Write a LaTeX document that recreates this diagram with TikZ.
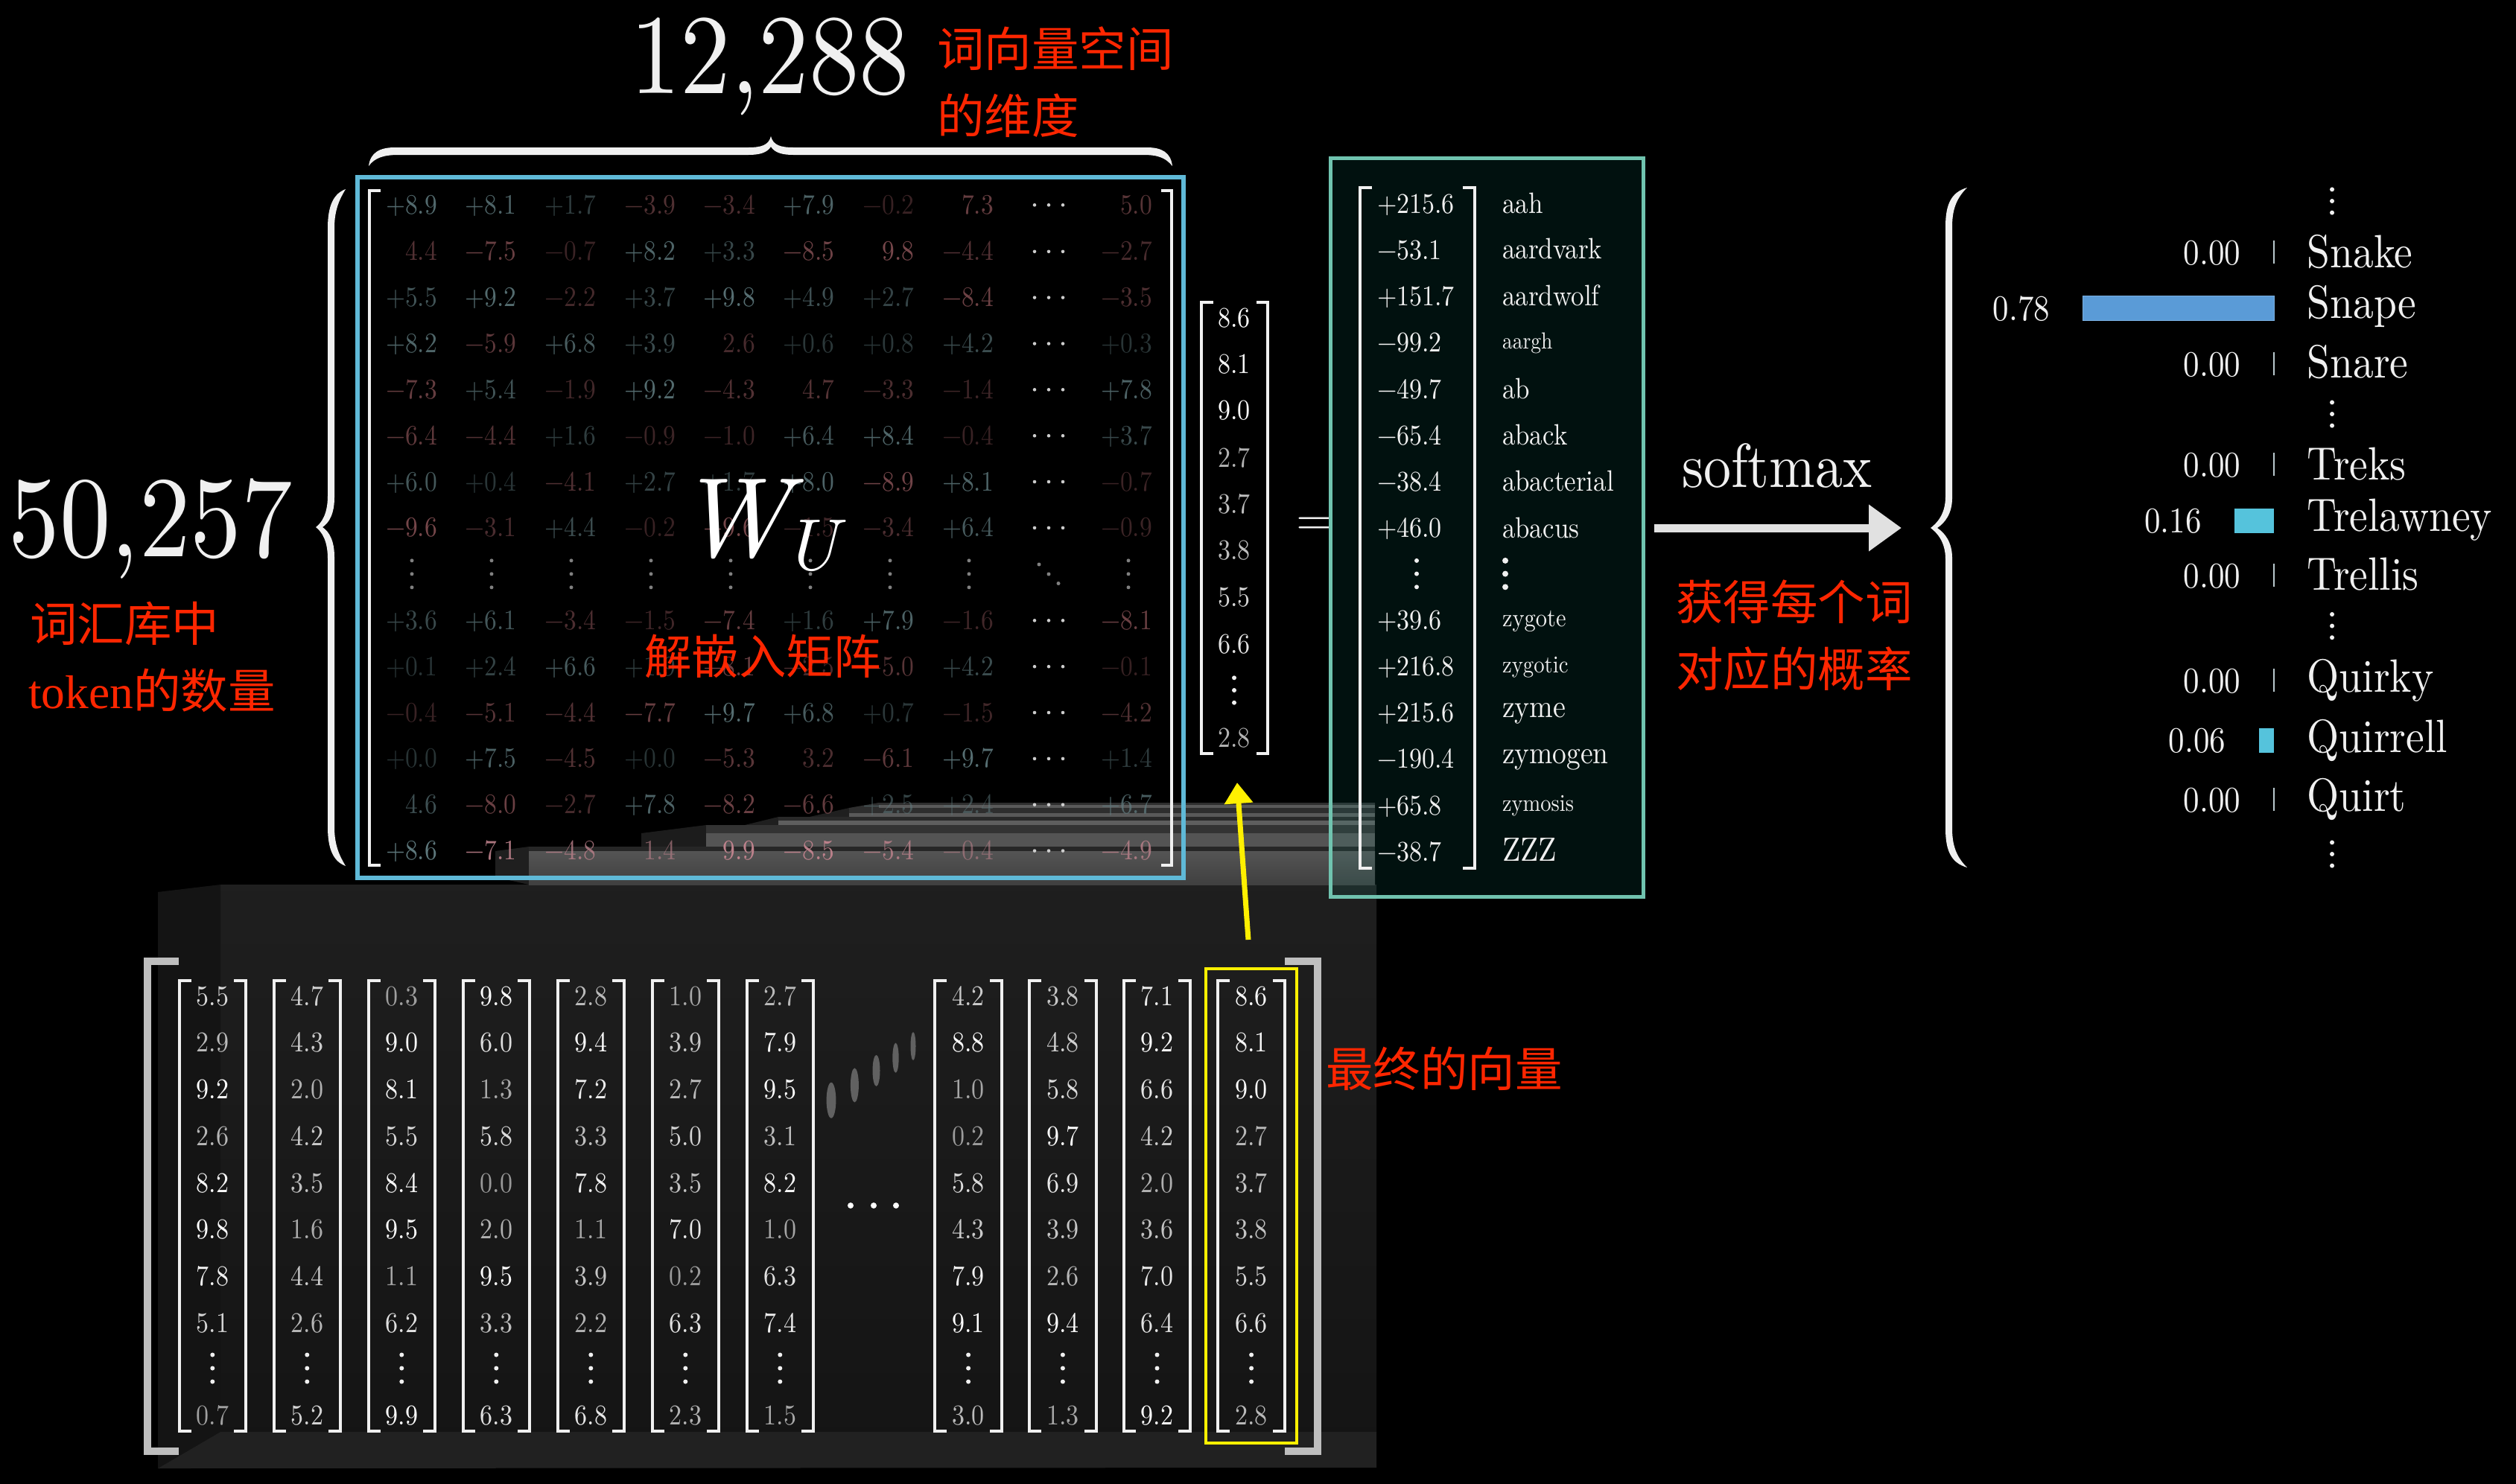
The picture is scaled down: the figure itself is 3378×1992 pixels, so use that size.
\documentclass[tikz,border=0pt]{standalone}
\usepackage{graphicx}
\usepackage{fontspec}
\usetikzlibrary{arrows.meta}
\setmainfont{lmroman10-regular.otf}[ItalicFont=lmroman10-italic.otf]
\newfontfamily\cjk{Noto Sans CJK SC}
\newfontfamily\latsf{Liberation Serif}
\definecolor{bluebox}{RGB}{95,185,215}
\definecolor{tealbox}{RGB}{112,195,175}
\definecolor{tealfill}{RGB}{20,190,170}
\definecolor{mteal}{RGB}{95,122,126}
\definecolor{mred}{RGB}{130,78,82}
\definecolor{mredb}{RGB}{190,130,140}
\definecolor{redlab}{RGB}{255,38,0}
\definecolor{ink}{RGB}{240,240,240}
\definecolor{yel}{RGB}{255,240,0}
\definecolor{arrowgrey}{RGB}{225,225,225}
\definecolor{barblue}{RGB}{90,155,215}
\definecolor{barcyan}{RGB}{85,195,220}
\definecolor{tickc}{RGB}{185,200,205}
\definecolor{outbr}{RGB}{190,190,190}
\newcommand\sy[1]{\scalebox{1}[1.13]{#1}}
\newcommand\fsz[1]{\fontsize{#1}{#1}\selectfont}
\newcommand\vd[5]{\fill[#5] (#1,#2-#3) circle[radius=#4] (#1,#2) circle[radius=#4] (#1,#2+#3) circle[radius=#4];}
\newcommand\lrbr[7]{\draw[#7] (#2,#5)--(#1,#5)--(#1,#6)--(#2,#6); \draw[#7] (#4,#5)--(#3,#5)--(#3,#6)--(#4,#6);}
\newcommand\fbrace[7]{% tipx tipy bandL bandR endx top bot
 \fill[ink] (#5,#6) .. controls (#3+8,#6+6) and (#3,#6+22) .. (#3,#6+52)
  -- (#3,#2-42) .. controls (#3,#2-18) and (#1+8,#2-6) .. (#1,#2)
  .. controls (#1+8,#2+6) and (#3,#2+18) .. (#3,#2+42)
  -- (#3,#7-52) .. controls (#3,#7-22) and (#3+8,#7-6) .. (#5,#7)
  .. controls (#4+8,#7-12) and (#4,#7-26) .. (#4,#7-52)
  -- (#4,#2+40) .. controls (#4,#2+18) and (#1+18,#2+6) .. (#1+9,#2)
  .. controls (#1+18,#2-6) and (#4,#2-18) .. (#4,#2-40)
  -- (#4,#6+52) .. controls (#4,#6+26) and (#4+8,#6+12) .. (#5,#6) -- cycle;}
\def\redname{mred}
\def\opbase{0.42}
\def\mcellparse#1#2\relax{%
 \pgfmathsetmacro\xx{ifthenelse(\i==8,1547,587+106.7*\i)}%
 \pgfmathsetmacro\opv{min(1,\opbase+0.05*#2)}%
 \if p#1\def\sgn{+}\def\mycol{mteal}\fi
 \if m#1\def\sgn{−}\def\mycol{\redname}\fi
 \if r#1\def\sgn{}\def\mycol{\redname}\fi
 \if t#1\def\sgn{}\def\mycol{mteal}\fi
 \node[mnum,text=\mycol,text opacity=\opv] (m\rr-\i) at (\xx,\yy) {\sy{\sgn#2}};%
}
\newcommand\mrow[2]{%
 \pgfmathsetmacro\yy{#1+12}%
 \def\rr{#1}%
 \foreach \c [count=\i from 0] in {#2} {\expandafter\mcellparse\c\relax}%
 \foreach \dx in {1389,1408,1427} {\fill[dotg] (\dx,#1) circle[radius=2.3];}%
}
\newcommand\veccol[4]{%
 \pgfmathsetmacro\bl{#2+16}\pgfmathsetmacro\rx{#2+89.4}\pgfmathsetmacro\br{#2+73.4}\pgfmathsetmacro\cx{#2+44.7}%
 \lrbr{#2}{\bl}{\rx}{\br}{1316.5}{1922}{brk}%
 \foreach \v [count=\k from 0] in {#3} {%
  \pgfmathsetmacro\yy{1350+62.75*\k}\pgfmathsetmacro\opv{0.56+0.05*\v}%
  \node[cnum,text opacity=\opv] (#1-\k) at (\cx,\yy) {\sy{\v}};}%
 \vd{\cx}{1837.5}{18}{3}{ink}%
 \pgfmathsetmacro\opv{0.56+0.05*#4}%
 \node[cnum,text opacity=\opv] (#1-last) at (\cx,1913) {\sy{#4}};%
}
\tikzset{
 base/.style={inner sep=0pt,outer sep=0pt},
 mnum/.style={base,anchor=base east,font=\fsz{33.5}},
 cnum/.style={base,anchor=base,text=white,font=\fsz{34}},
 tnum/.style={base,anchor=base west,text=ink,font=\fsz{34}},
 pnum/.style={base,anchor=base east,text=ink,font=\fsz{43}},
 pword/.style={base,anchor=base west,text=ink,font=\fsz{55.5}},
 redtext/.style={base,anchor=west,text=redlab,font=\cjk\fsz{63.5}},
 brk/.style={draw=ink,line width=4},
 bigbrk/.style={draw=outbr,line width=10},
 dotg/.style={fill=white!80!black},
 faint/.style={fill=white!50!black},
}
\begin{document}
\begin{tikzpicture}[x=1pt,y=-1pt]
\useasboundingbox (0,0) rectangle (3378,1992);
\fill[black] (-6,-6) rectangle (3384,1998);
% lower box
\shade[top color=black!88!white,bottom color=black!92!white] (296,1188) rectangle (1848,1923);
\fill[black!92!white] (212,1198)--(296,1188)--(296,1923)--(212,1972)--cycle;
\fill[black!87!white] (212,1972)--(296,1923)--(1848,1923)--(1848,1971)--cycle;
% stair layers
\fill[black!88!white] (1087,1097)--(1140,1085)--(1140,1097)--cycle;
\fill[black!82!white] (1140,1085)--(1180,1078)--(1846,1078)--(1846,1097)--(1140,1097)--cycle;
\fill[black!65!white] (1180,1081) rectangle (1846,1085);
\fill[black!65!white] (1140,1092) rectangle (1846,1097);
\fill[black!88!white] (1000,1108)--(1045,1097)--(1045,1108)--cycle;
\fill[black!84!white] (1045,1097) rectangle (1846,1102);
\fill[black!63!white] (1045,1102) rectangle (1846,1108);
\fill[black!89!white] (861,1119)--(948,1108)--(948,1137)--(861,1137)--cycle;
\fill[black!80!white] (948,1108) rectangle (1846,1119);
\fill[black!67!white] (948,1119) rectangle (1846,1137);
\fill[black!88!white] (665,1143)--(710,1137)--(710,1188)--(665,1178)--cycle;
\fill[black!85!white] (710,1137) rectangle (1846,1143);
\shade[top color=black!67!white,bottom color=black!75!white] (710,1143) rectangle (1846,1188);
% equals, behind teal box
\node[base,anchor=center,text=ink,font=\fsz{64}] (eq) at (1765,707) {=};
% teal box
\fill[tealfill,opacity=0.09] (1786,212) rectangle (2206,1204);
\draw[draw=tealbox,line width=5] (1786,212) rectangle (2206,1204);
% blue box
\draw[draw=bluebox,line width=6] (480,238) rectangle (1589,1179);
% braces
\fill[ink] (495,223) .. controls (497,205) and (510,198) .. (530,198) -- (1005,198) .. controls (1022,198) and (1032,195) .. (1035,183)
 .. controls (1038,195) and (1048,198) .. (1065,198) -- (1540,198) .. controls (1560,198) and (1572,205) .. (1574,223)
 .. controls (1565,212) and (1555,208) .. (1535,208) -- (1065,208) .. controls (1050,208) and (1040,205) .. (1035,197)
 .. controls (1030,205) and (1020,208) .. (1005,208) -- (535,208) .. controls (515,208) and (503,212) .. (495,223) -- cycle;
\fbrace{424}{708}{440}{449}{464}{254}{1163}
\fbrace{2592}{709}{2612}{2621}{2641}{252}{1165}
% matrix
\lrbr{496}{511}{1573}{1559}{256}{1162}{brk}
\mrow{275.3}{p8.9,p8.1,p1.7,m3.9,m3.4,p7.9,m0.2,r7.3,r5.0}
\mrow{337.8}{r4.4,m7.5,m0.7,p8.2,p3.3,m8.5,r9.8,m4.4,m2.7}
\mrow{399.6}{p5.5,p9.2,m2.2,p3.7,p9.8,p4.9,p2.7,m8.4,m3.5}
\mrow{461.5}{p8.2,m5.9,p6.8,p3.9,r2.6,p0.6,p0.8,p4.2,p0.3}
\mrow{523.3}{m7.3,p5.4,m1.9,p9.2,m4.3,r4.7,m3.3,m1.4,p7.8}
\mrow{585.2}{m6.4,m4.4,p1.6,m0.9,m1.0,p6.4,p8.4,m0.4,p3.7}
\mrow{647}{p6.0,p0.4,m4.1,p2.7,p1.7,p8.0,m8.9,p8.1,m0.7}
\mrow{708.9}{m9.6,m3.1,p4.4,m0.2,m9.6,m1.5,m3.4,p6.4,m0.9}
\mrow{833.3}{p3.6,p6.1,m3.4,m1.5,m7.4,p1.6,p7.9,m1.6,m8.1}
\mrow{895.2}{p0.1,p2.4,p6.6,p1.9,m8.1,m2.5,m5.0,p4.2,m0.1}
\mrow{957}{m0.4,m5.1,m4.4,m7.7,p9.7,p6.8,p0.7,m1.5,m4.2}
\mrow{1018.9}{p0.0,p7.5,m4.5,p0.0,m5.3,r3.2,m6.1,p9.7,p1.4}
\mrow{1080.7}{t4.6,m8.0,m2.7,p7.8,m8.2,m6.6,p2.5,p2.4,p6.7}
\def\redname{mredb}\def\opbase{0.55}
\mrow{1142.6}{p8.6,m7.1,m4.8,r1.4,r9.9,m8.5,m5.4,m0.4,m4.9}
\foreach \dx in {553,660,767,874,981,1088,1195,1301,1515} {\vd{\dx}{770.8}{18}{2.5}{faint}}
\fill[faint] (1395,758) circle[radius=2.5] (1408,771) circle[radius=2.5] (1421,783.5) circle[radius=2.5];
\node[base,anchor=base west,text=white,font=\itshape\fsz{152}] (wu) at (908,747) {W};
\node[base,anchor=base west,text=white,font=\itshape\fsz{98}] (wusub) at (1052,765) {U};
% vector
\lrbr{1613}{1629}{1702}{1687}{406}{1012}{brk}
\foreach \v/\b [count=\k] in {8.6/439,8.1/501.4,9.0/563.6,2.7/627.3,3.7/689.5,3.8/751.8,5.5/814,6.6/877,2.8/1003} {
 \pgfmathsetmacro\opv{0.56+0.05*\v}
 \node[cnum,text opacity=\opv] (v\k) at (1657,\b) {\sy{\v}};}
\vd{1657}{927}{16.7}{3}{ink}
% logits
\lrbr{1826}{1842}{1979.5}{1963.5}{251.6}{1166}{brk}
\foreach \t/\b [count=\k] in {+215.6/286,−53.1/348,+151.7/410,−99.2/472.6,−49.7/535,−65.4/597,−38.4/659,+46.0/721,+39.6/845,+216.8/907,+215.6/969.5,−190.4/1031.7,+65.8/1094,−38.7/1156} {
 \node[tnum] (n\k) at (1849,\b) {\sy{\t}};}
\vd{1902}{770.6}{17.7}{3}{ink}
\foreach \w/\s/\b [count=\k] in {aah/35/286,aardvark/35/347.5,aardwolf/35/410,aargh/27.6/468,ab/35/535,aback/35/597,abacterial/35/659.5,abacus/35/722.4,zygote/30.5/841,zygotic/28.7/903,zyme/38/963.5,zymogen/37.5/1025,zymosis/28.5/1089,ZZZ/40/1156} {
 \node[base,anchor=base west,text=ink,font=\fsz{\s}] (w\k) at (2017,\b) {\sy{\w}};}
\vd{2021}{770.6}{17.7}{4}{ink}
% softmax
\node[base,anchor=base west,text=ink,font=\fsz{74}] (softmax) at (2258,654) {\sy{softmax}};
\coordinate (sa) at (2221,709);
\coordinate (sb) at (2553,709);
\draw[draw=arrowgrey,fill=arrowgrey,line width=11,-{Triangle[length=44pt,width=60pt]}] (sa) -- (sb);
% column bank
\lrbr{197.5}{240}{1768.5}{1725}{1290.5}{1949}{bigbrk}
\veccol{ca}{240.6}{5.5,2.9,9.2,2.6,8.2,9.8,7.8,5.1}{0.7}
\veccol{cb}{367.6}{4.7,4.3,2.0,4.2,3.5,1.6,4.4,2.6}{5.2}
\veccol{cc}{494.6}{0.3,9.0,8.1,5.5,8.4,9.5,1.1,6.2}{9.9}
\veccol{cd}{621.6}{9.8,6.0,1.3,5.8,0.0,2.0,9.5,3.3}{6.3}
\veccol{ce}{748.6}{2.8,9.4,7.2,3.3,7.8,1.1,3.9,2.2}{6.8}
\veccol{cf}{875.6}{1.0,3.9,2.7,5.0,3.5,7.0,0.2,6.3}{2.3}
\veccol{cg}{1002.6}{2.7,7.9,9.5,3.1,8.2,1.0,6.3,7.4}{1.5}
\veccol{ch}{1255.4}{4.2,8.8,1.0,0.2,5.8,4.3,7.9,9.1}{3.0}
\veccol{ci}{1382.2}{3.8,4.8,5.8,9.7,6.9,3.9,2.6,9.4}{1.3}
\veccol{cj}{1508.8}{7.1,9.2,6.6,4.2,2.0,3.6,7.0,6.4}{9.2}
\veccol{ck}{1635.4}{8.6,8.1,9.0,2.7,3.7,3.8,5.5,6.6}{2.8}
\fill[black!62!white] (1116,1477.7) ellipse[x radius=6.4,y radius=24];
\fill[black!62!white] (1147.4,1457.4) ellipse[x radius=5.5,y radius=23];
\fill[black!62!white] (1176.5,1437.8) ellipse[x radius=5,y radius=21];
\fill[black!62!white] (1202.5,1420.7) ellipse[x radius=4.2,y radius=20];
\fill[black!62!white] (1226,1405) ellipse[x radius=3.5,y radius=19];
\fill[white] (1142,1619) circle[radius=4] (1173,1619) circle[radius=4] (1203,1619) circle[radius=4];
% yellow
\node[base,draw=yel,line width=4,minimum width=122pt,minimum height=637.5pt,anchor=north west] (ybox) at (1619,1300.5) {};
\coordinate (ya) at (1676,1262);
\coordinate (yb) at (1661,1051);
\draw[draw=yel,fill=yel,line width=7,-{Triangle[length=28pt,width=37pt]}] (ya) -- (yb);
% probabilities
\foreach \y in {270,556,840.6,1147} {\vd{3131}{\y}{15.6}{3}{ink}}
\foreach \l/\b/\tl/\k in {339/355/323/a,489/505/473/b,624/640/608/c,773/789/757/d,914/930/898/e,1074/1090/1058/f} {
 \fill[tickc] (3051.5,\tl) rectangle (3053.5,\tl+31);
 \node[pnum] (p\k) at (3008,\b) {\sy{0.00}};}
\fill[barblue] (2796.6,397) rectangle (3053,430.6);
\draw[draw=barblue!80!white,line width=1] (2796.6,397) rectangle (3053,430.6);
\fill[barcyan] (3000,682.5) rectangle (3053,715.6);
\fill[barcyan] (3033,977.5) rectangle (3053,1011);
\node[pnum] (pg) at (2752,430) {\sy{0.78}};
\node[pnum] (ph) at (2955.5,715) {\sy{0.16}};
\node[pnum] (pi) at (2988,1010) {\sy{0.06}};
\foreach \w/\b [count=\k] in {Snake/359,Snape/427.5,Snare/507.5,Treks/644,Trelawney/713.7,Trellis/792,Quirky/929,Quirrell/1010.6,Quirt/1089} {
 \node[pword] (q\k) at (3097.5,\b) {\sy{\w}};}
% big numbers
\node[base,anchor=base west,text=ink,font=\fsz{135}] (dimv) at (846,125) {\sy{12,288}};
\node[base,anchor=base west,text=ink,font=\fsz{137}] (dimh) at (12,747) {\sy{50,257}};
% red labels
\node[redtext] (r1) at (1258,65) {词向量空间};
\node[redtext] (r2) at (1258,155) {的维度};
\node[redtext] (r3) at (40,838) {词汇库中};
\node[redtext] (r4) at (38,927) {{\latsf token}的数量};
\node[redtext] (r5) at (865,881) {解嵌入矩阵};
\node[redtext] (r6) at (1780,1435) {最终的向量};
\node[redtext] (r7) at (2250,808) {获得每个词};
\node[redtext] (r8) at (2250,898) {对应的概率};
\end{tikzpicture}
\end{document}
